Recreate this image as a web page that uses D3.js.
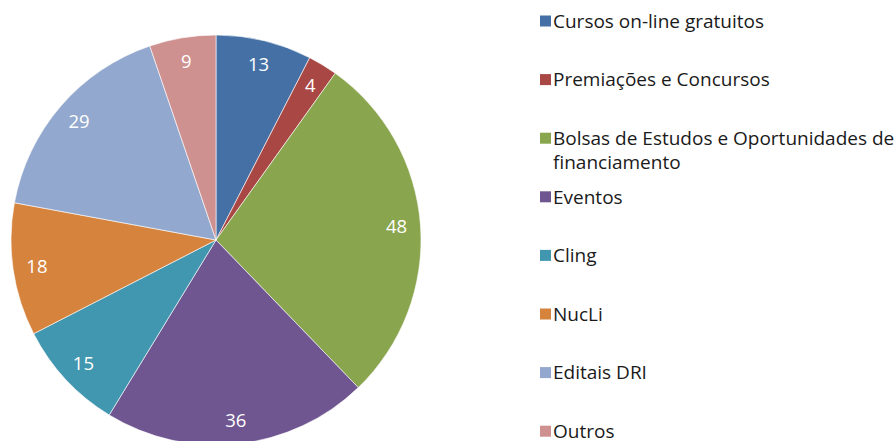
<!DOCTYPE html>
<html>
<head>
<meta charset="utf-8">
<script src="https://cdn.jsdelivr.net/npm/d3@7"></script>
<style>
  html, body { margin: 0; padding: 0; background: #fff; }
  svg { display: block; font-family: "Open Sans", Lato, sans-serif; }
</style>
</head>
<body>
<div id="chart"></div>
<script>
// Pie chart of categories with legend on the right

const categories = [
    'Cursos on-line gratuitos',
    'Premiações e Concursos',
    'Bolsas de Estudos e Oportunidades de financiamento',
    'Eventos',
    'Cling',
    'NucLi',
    'Editais DRI',
    'Outros'
];
const values = [13, 4, 48, 36, 15, 18, 29, 9];
const colors = ['#4470A5', '#A94744', '#89A54E', '#6F5690', '#4197B0', '#D6833E', '#93A8CE', '#CE9190'];
// legend text split in lines where the original wraps
const legendLines = [
    ['Cursos on-line gratuitos'],
    ['Premiações e Concursos'],
    ['Bolsas de Estudos e Oportunidades de', 'financiamento'],
    ['Eventos'],
    ['Cling'],
    ['NucLi'],
    ['Editais DRI'],
    ['Outros']
];

const width = 895, height = 441;
const cx = 216, cy = 240, radius = 205, labelRadius = 181;

const svg = d3.select('#chart').append('svg')
    .attr('width', width)
    .attr('height', height);

const data = categories.map((name, i) => ({ name, value: values[i], color: colors[i] }));

const pie = d3.pie().value(d => d.value).sort(null);
const arc = d3.arc().innerRadius(0).outerRadius(radius);
const labelArc = d3.arc().innerRadius(labelRadius).outerRadius(labelRadius);

const g = svg.append('g').attr('transform', `translate(${cx},${cy})`);
const arcs = pie(data);

g.selectAll('path')
    .data(arcs)
    .enter()
    .append('path')
    .attr('d', arc)
    .attr('fill', d => d.data.color)
    .attr('stroke', '#fff')
    .attr('stroke-width', 0.6);

g.selectAll('text')
    .data(arcs)
    .enter()
    .append('text')
    .attr('transform', d => `translate(${labelArc.centroid(d)})`)
    .attr('text-anchor', 'middle')
    .attr('dy', '0.36em')
    .attr('fill', '#fff')
    .attr('font-size', '18.5px')
    .text(d => d.data.value);

// Legend
const legendX = 540, legendTop = 21, rowStep = 58.6;
const legend = svg.append('g').attr('class', 'legend');

legendLines.forEach((lines, i) => {
    const yc = legendTop + i * rowStep;
    const row = legend.append('g').attr('transform', `translate(${legendX},${yc})`);
    row.append('rect')
        .attr('x', 0)
        .attr('y', -5.5)
        .attr('width', 11)
        .attr('height', 11)
        .attr('fill', colors[i]);
    lines.forEach((line, j) => {
        row.append('text')
            .attr('x', 13)
            .attr('y', j * 24)
            .attr('dy', '0.36em')
            .attr('font-size', '19px')
            .attr('fill', '#1a1a1a')
            .text(line);
    });
});
</script>
</body>
</html>
